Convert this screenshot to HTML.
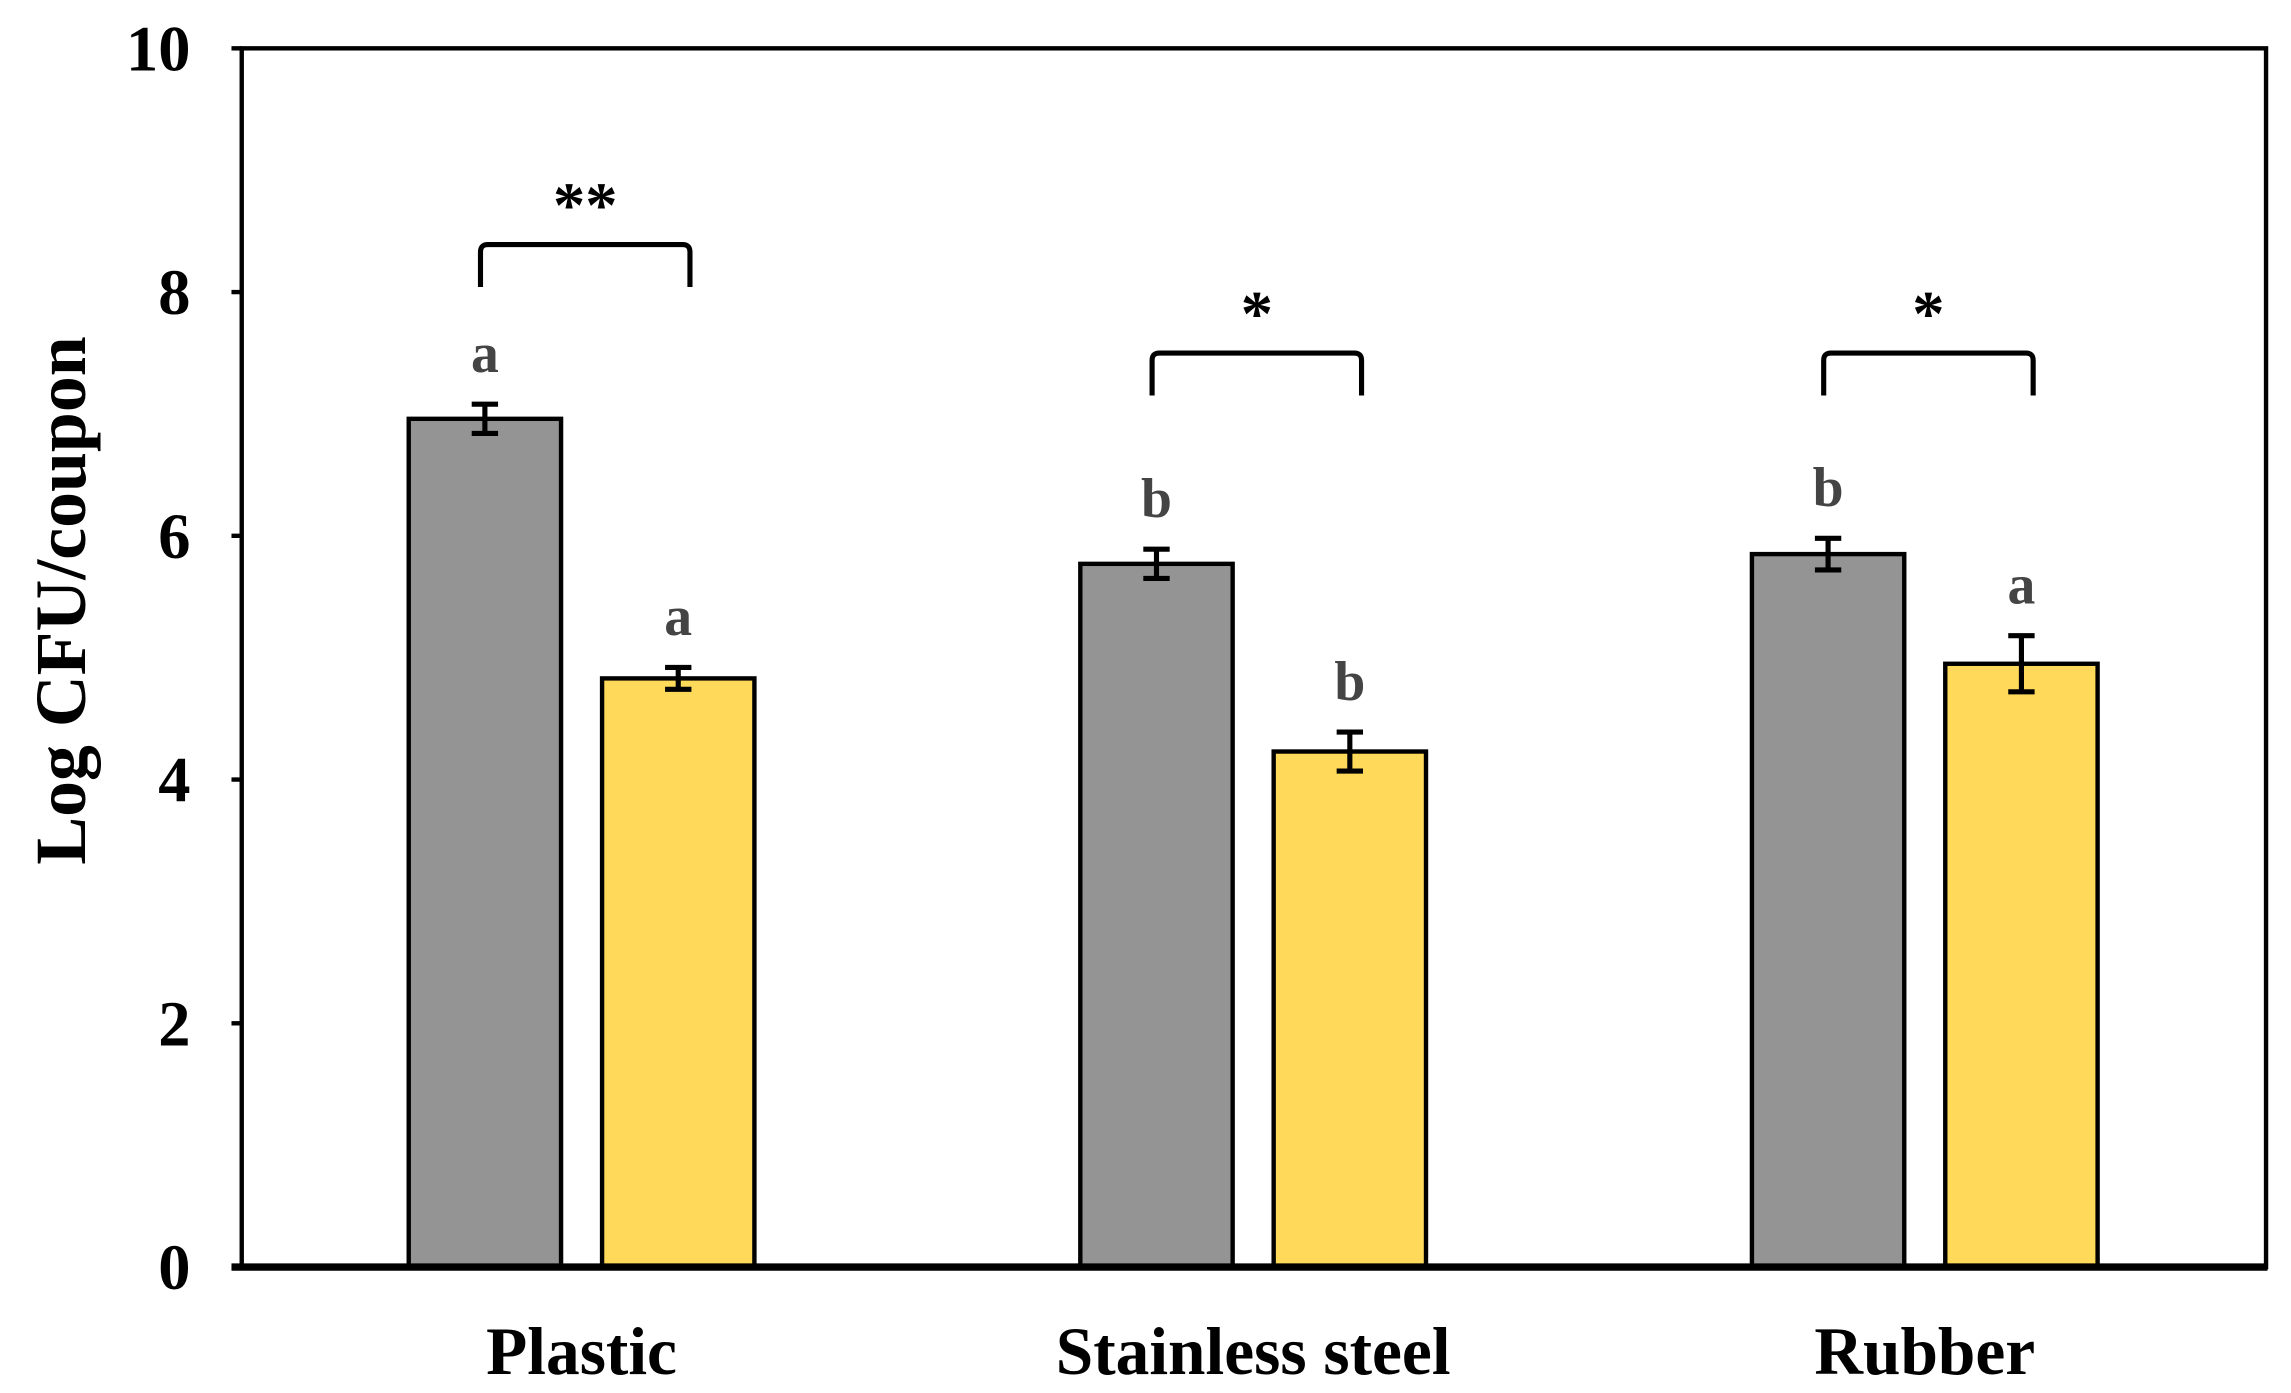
<!DOCTYPE html>
<html><head><meta charset="utf-8"><style>html,body{margin:0;padding:0;background:#fff}svg{display:block}</style></head>
<body>
<svg id="chart" width="2291" height="1393" viewBox="0 0 1564 951" xmlns="http://www.w3.org/2000/svg" font-family="Liberation Serif, serif" font-weight="bold">
<g id="root"></g>
</svg>
<script>
const categories = ["Plastic", "Stainless steel", "Rubber"];
const grayValues = [6.96, 5.77, 5.85];
const grayErrors = [0.12, 0.12, 0.13];
const yellowValues = [4.83, 4.23, 4.95];
const yellowErrors = [0.09, 0.16, 0.23];
const grayLetters = ["a", "b", "b"];
const yellowLetters = ["a", "b", "a"];
const sigMarks = ["**", "*", "*"];
const sigLevels = [8.39, 7.5, 7.5];
const yTicks = [0, 2, 4, 6, 8, 10];

const NS = "http://www.w3.org/2000/svg";
const root = document.getElementById('root');
const x0 = 165, x1 = 1547, yTop = 33, yBot = 865;
const y = v => yBot - (v / 10) * (yBot - yTop);
const groupCenter = i => 397 + i * 458.5;
const barW = 104, gap = 28;
function mk(tag, attrs, parent) {
  const e = document.createElementNS(NS, tag);
  for (const k in attrs) e.setAttribute(k, attrs[k]);
  (parent || root).appendChild(e);
  return e;
}
const frame = mk('rect', {x: x0, y: yTop, width: x1 - x0, height: yBot - yTop, fill: 'none', stroke: '#000', 'stroke-width': 3});


yTicks.forEach(t => {
  const tk = mk('line', {x1: x0 - 7, x2: x0, y1: y(t), y2: y(t), stroke: '#000', 'stroke-width': 3});
  
  
  const lb = mk('text', {x: 130, y: y(t) + 15, 'text-anchor': 'end', 'font-size': 44});
  lb.textContent = t;
  
  
});
const yt = mk('text', {x: 0, y: 0, 'text-anchor': 'middle', 'font-size': 49, transform: 'translate(58,410) rotate(-90)'});
yt.textContent = 'Log CFU/coupon';



categories.forEach((c, i) => {
  const cx = groupCenter(i);
  const gx = cx - gap / 2 - barW, yx = cx + gap / 2;
  const series = [[gx, grayValues[i], grayErrors[i], '#949494', grayLetters[i], 'gray'], [yx, yellowValues[i], yellowErrors[i], '#FFD95A', yellowLetters[i], 'yellow']];
  series.forEach(([bx, v, e, col, let_, nm]) => {
    const r = mk('rect', {x: bx, y: y(v), width: barW, height: yBot - y(v), fill: col, stroke: '#000', 'stroke-width': 3});
    
    
    const mx = bx + barW / 2;
    const eg = mk('path', {d: `M${mx - 9},${y(v + e)}H${mx + 9}M${mx},${y(v + e)}V${y(v - e)}M${mx - 9},${y(v - e)}H${mx + 9}`, stroke: '#000', 'stroke-width': 3.5, fill: 'none'});
    
    
    const lt = mk('text', {x: mx, y: y(v + e) - 22, 'text-anchor': 'middle', 'font-size': 38, fill: '#444'});
    lt.textContent = let_;
    
    
  });
  const lx = gx + barW / 2 - 3, rx = yx + barW / 2 + 8, by = y(sigLevels[i]);
  const br = mk('path', {d: `M${lx},${by + 29}V${by + 5}Q${lx},${by} ${lx + 5},${by}H${rx - 5}Q${rx},${by} ${rx},${by + 5}V${by + 29}`, stroke: '#000', 'stroke-width': 3.5, fill: 'none'});
  
  
  const st = mk('text', {x: (lx + rx) / 2, y: by - 12, 'text-anchor': 'middle', 'font-size': 44});
  st.textContent = sigMarks[i];
  
  
  const cl = mk('text', {x: cx, y: 938, 'text-anchor': 'middle', 'font-size': 46});
  cl.textContent = c;
  
  
});
const xa = mk('line', {x1: 158, x2: x1 + 1, y1: yBot, y2: yBot, stroke: '#000', 'stroke-width': 5});


</script>
</body></html>
